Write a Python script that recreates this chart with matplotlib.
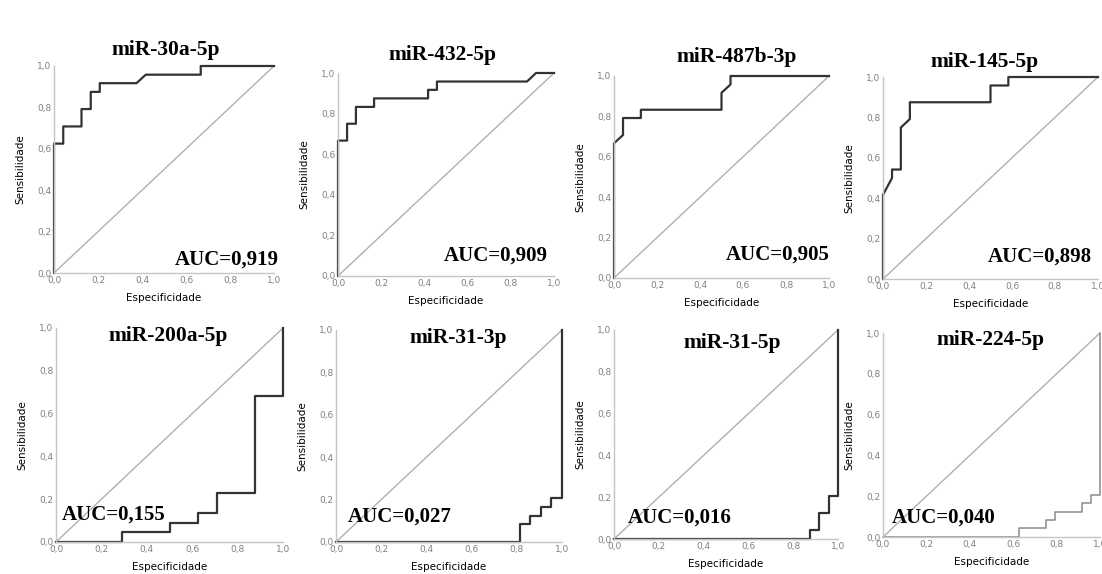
import matplotlib
matplotlib.use("Agg")
import matplotlib.pyplot as plt

W, H = 1102, 574

titles = ["miR-30a-5p", "miR-432-5p", "miR-487b-3p", "miR-145-5p",
          "miR-200a-5p", "miR-31-3p", "miR-31-5p", "miR-224-5p"]
auc_labels = ["AUC=0,919", "AUC=0,909", "AUC=0,905", "AUC=0,898",
              "AUC=0,155", "AUC=0,027", "AUC=0,016", "AUC=0,040"]

# ROC curve vertices (x, y)
x_30a = [0, 0, 0.042, 0.042, 0.125, 0.125, 0.167, 0.167, 0.208, 0.208, 0.375, 0.417, 0.667, 0.667, 1.0]
y_30a = [0, 0.625, 0.625, 0.708, 0.708, 0.792, 0.792, 0.875, 0.875, 0.917, 0.917, 0.958, 0.958, 1.0, 1.0]
x_432 = [0, 0, 0.042, 0.042, 0.083, 0.083, 0.167, 0.167, 0.417, 0.417, 0.458, 0.458, 0.875, 0.917, 1.0]
y_432 = [0, 0.667, 0.667, 0.75, 0.75, 0.833, 0.833, 0.875, 0.875, 0.917, 0.917, 0.958, 0.958, 1.0, 1.0]
x_487b = [0, 0, 0.042, 0.042, 0.125, 0.125, 0.5, 0.5, 0.542, 0.542, 1.0]
y_487b = [0, 0.667, 0.708, 0.792, 0.792, 0.833, 0.833, 0.917, 0.958, 1.0, 1.0]
x_145 = [0, 0, 0.042, 0.042, 0.083, 0.083, 0.125, 0.125, 0.5, 0.5, 0.583, 0.583, 1.0]
y_145 = [0, 0.417, 0.5, 0.542, 0.542, 0.75, 0.792, 0.875, 0.875, 0.958, 0.958, 1.0, 1.0]
x_200a = [0, 0.292, 0.292, 0.5, 0.5, 0.625, 0.625, 0.708, 0.708, 0.875, 0.875, 1.0, 1.0]
y_200a = [0, 0, 0.045, 0.045, 0.091, 0.091, 0.136, 0.136, 0.227, 0.227, 0.682, 0.682, 1.0]
x_31_3p = [0, 0.812, 0.812, 0.86, 0.86, 0.906, 0.906, 0.952, 0.952, 1.0, 1.0]
y_31_3p = [0, 0, 0.083, 0.083, 0.125, 0.125, 0.167, 0.167, 0.208, 0.208, 1.0]
x_31_5p = [0, 0.875, 0.875, 0.917, 0.917, 0.958, 0.958, 1.0, 1.0]
y_31_5p = [0, 0, 0.042, 0.042, 0.125, 0.125, 0.208, 0.208, 1.0]
x_224 = [0, 0.625, 0.625, 0.75, 0.75, 0.792, 0.792, 0.917, 0.917, 0.958, 0.958, 1.0, 1.0]
y_224 = [0, 0, 0.042, 0.042, 0.083, 0.083, 0.125, 0.125, 0.167, 0.167, 0.208, 0.208, 1.0]

curves_x = [x_30a, x_432, x_487b, x_145, x_200a, x_31_3p, x_31_5p, x_224]
curves_y = [y_30a, y_432, y_487b, y_145, y_200a, y_31_3p, y_31_5p, y_224]

ticks = [0.0, 0.2, 0.4, 0.6, 0.8, 1.0]
tick_labels = ["0,0", "0,2", "0,4", "0,6", "0,8", "1,0"]

# layout in pixels: (x0, x1, ytop, ybottom)
boxes = [(54, 274, 66, 273), (338, 554, 73, 276), (614, 829, 76, 278), (883, 1098, 77, 279),
         (56, 283, 328, 542), (336, 562, 330, 542), (614, 838, 330, 539), (883, 1100, 333, 537)]
title_pos = [(166, 50), (442, 55), (737, 57), (985, 62),
             (168, 336), (458, 338), (732, 343), (990, 340)]
auc_pos = [(227, 260), (496, 256), (778, 255), (1040, 257),
           (114, 515), (400, 517), (680, 518), (944, 518)]
curve_color = ["#333333"] * 7 + ["#8a8a8a"]
curve_lw = [1.6] * 7 + [1.1]

fig = plt.figure(figsize=(W / 100, H / 100), dpi=100)
fig.patch.set_facecolor("white")

for i in range(8):
    x0, x1, yt, yb = boxes[i]
    ax = fig.add_axes([x0 / W, 1 - yb / H, (x1 - x0) / W, (yb - yt) / H])
    ax.set_xlim(0, 1)
    ax.set_ylim(0, 1)
    ax.plot([0, 1], [0, 1], color="#b0b0b0", lw=1.0, solid_capstyle="butt")
    ax.plot(curves_x[i], curves_y[i], color=curve_color[i], lw=curve_lw[i], clip_on=False)
    for s in ["top", "right"]:
        ax.spines[s].set_visible(False)
    for s in ["left", "bottom"]:
        ax.spines[s].set_color("#c4c4c4")
        ax.spines[s].set_linewidth(1.0)
    ax.set_xticks(ticks)
    ax.set_xticklabels(tick_labels)
    ax.set_yticks(ticks)
    ax.set_yticklabels(tick_labels)
    ax.tick_params(length=0, labelsize=6.5, labelcolor="#808080", pad=2)
    ax.set_xlabel("Especificidade", fontsize=7.5, labelpad=6)
    ax.set_ylabel("Sensibilidade", fontsize=7.5, labelpad=8)
    ax.patch.set_alpha(0)
    tx, ty = title_pos[i]
    fig.text(tx / W, 1 - ty / H, titles[i], ha="center", va="center",
             fontsize=15.5, fontweight="bold", family="Liberation Serif")
    axx, axy = auc_pos[i]
    fig.text(axx / W, 1 - axy / H, auc_labels[i], ha="center", va="center",
             fontsize=15, fontweight="bold", family="Liberation Serif")

fig.savefig("out.png", dpi=100, facecolor="white")
